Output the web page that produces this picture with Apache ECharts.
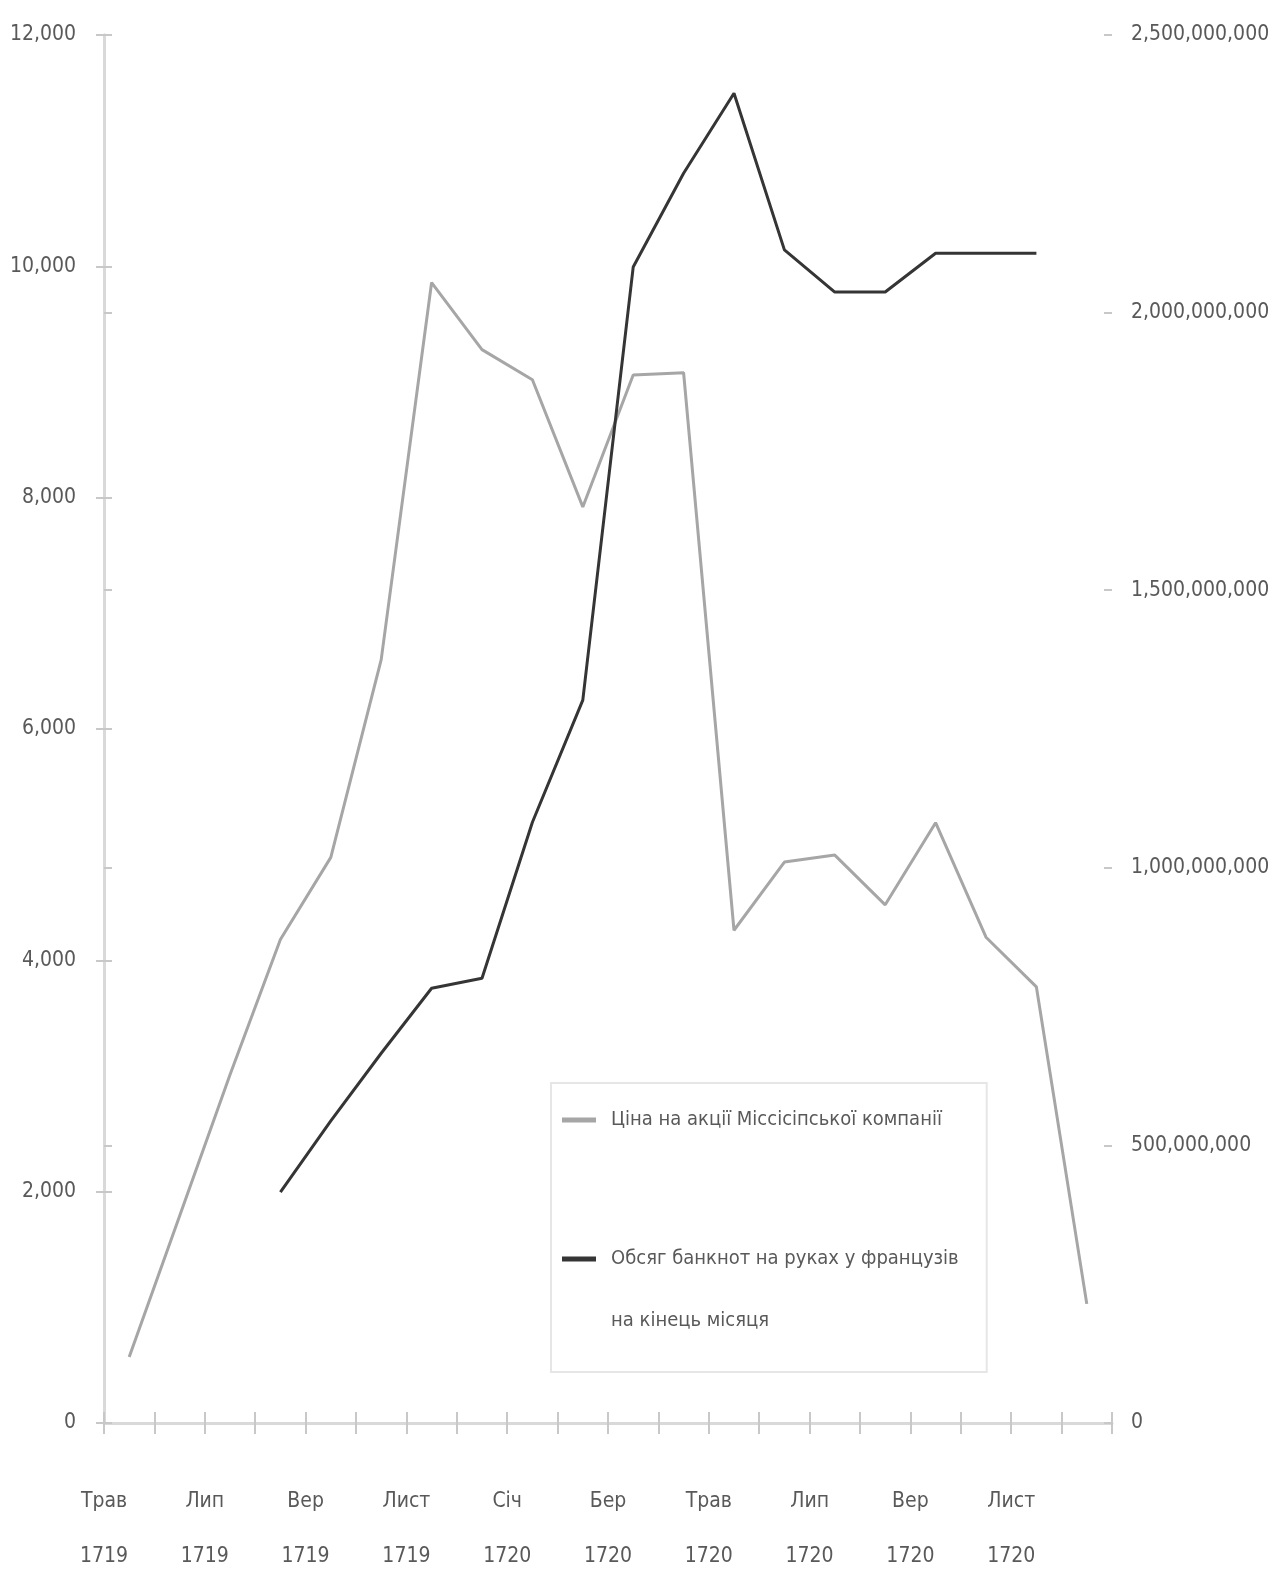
<!DOCTYPE html>
<html><head><meta charset="utf-8">
<script src="https://cdn.jsdelivr.net/npm/echarts@6/dist/echarts.min.js"></script>
<style>html,body{margin:0;padding:0;background:#fff}#c{width:1273px;height:1579px}</style>
</head><body><div id="c"></div>
<script>
const months = ['Трав 1719','Черв 1719','Лип 1719','Серп 1719','Вер 1719','Жовт 1719','Лист 1719','Груд 1719','Січ 1720','Лют 1720','Бер 1720','Квіт 1720','Трав 1720','Черв 1720','Лип 1720','Серп 1720','Вер 1720','Жовт 1720','Лист 1720','Груд 1720'];
const sharePrice = [570, 1790, 3010, 4180, 4890, 6600, 9860, 9280, 9020, 7920, 9060, 9080, 4260, 4850, 4910, 4480, 5190, 4200, 3770, 1030];
const banknotes = [null, null, null, 416e6, 544e6, 666e6, 783e6, 801e6, 1082e6, 1302e6, 2082e6, 2251e6, 2395e6, 2113e6, 2037e6, 2037e6, 2107e6, 2107e6, 2107e6, null];
const seriesNames = ['Ціна на акції Міссісіпської компанії', 'Обсяг банкнот на руках у французів на кінець місяця'];

const FONT = "'DejaVu Sans Condensed','Liberation Sans Narrow',sans-serif";
const FS = 21;
const TXT = '#595959';
const AX = '#d9d9d9';
const TICK = '#c8c8c8';
const fmt = v => String(Math.round(v)).replace(/\B(?=(\d{3})+(?!\d))/g, ',');

function pts(arr){ return arr.map((v,i)=>[i+0.5, v]); }

const chart = echarts.init(document.getElementById('c'), null, {renderer:'canvas'});
const xBase = {type:'value', min:0, max:months.length, interval:1, splitLine:{show:false}, position:'bottom'};
chart.setOption({
  animation:false,
  backgroundColor:'#fff',
  grid:{left:104, right:161, top:35, bottom:156, containLabel:false, outerBoundsMode:'none'},
  xAxis:[
    Object.assign({}, xBase, {
      axisLine:{show:true, lineStyle:{color:AX, width:3}},
      axisTick:{show:true, length:11, lineStyle:{color:TICK, width:2}},
      axisLabel:{show:true, margin:51, color:TXT, fontFamily:FONT, fontSize:FS, lineHeight:55,
        formatter:v => (v%2===0 && v<months.length) ? months[v].replace(' ','\n') : ''}
    }),
    Object.assign({}, xBase, {
      axisLine:{show:false},
      axisTick:{show:true, inside:true, length:11, lineStyle:{color:TICK, width:2}},
      axisLabel:{show:false}
    })
  ],
  yAxis:[
    {type:'value', position:'left', min:0, max:12000, interval:2000, splitLine:{show:false},
     axisLine:{show:true, lineStyle:{color:AX, width:3}},
     axisTick:{show:true, length:8, lineStyle:{color:TICK, width:2}},
     axisLabel:{margin:28, color:TXT, fontFamily:FONT, fontSize:FS, formatter:fmt}},
    {type:'value', position:'right', min:0, max:2500000000, interval:500000000, splitLine:{show:false},
     axisLine:{show:true, lineStyle:{color:AX, width:3}},
     axisTick:{show:true, length:8, lineStyle:{color:TICK, width:2}},
     axisLabel:{margin:19, color:TXT, fontFamily:FONT, fontSize:FS, formatter:fmt}},
    {type:'value', position:'left', min:0, max:12000, interval:2000, splitLine:{show:false},
     axisLine:{show:false}, axisLabel:{show:false},
     axisTick:{show:true, inside:true, length:8, lineStyle:{color:TICK, width:2}}},
    {type:'value', position:'right', min:0, max:2500000000, interval:500000000, splitLine:{show:false},
     axisLine:{show:false}, axisLabel:{show:false},
     axisTick:{show:true, inside:true, length:8, lineStyle:{color:TICK, width:2}}}
  ],
  legend:{
    orient:'vertical', left:551, top:1083,
    padding:[6, 28, 20, 11],
    itemGap:15, itemWidth:34, itemHeight:5, icon:'rect',
    borderColor:'#e6e6e6', borderWidth:2, backgroundColor:'#fff',
    textStyle:{color:TXT, fontFamily:FONT, fontSize:20, lineHeight:62, padding:[0,0,0,10]},
    data:[seriesNames[0], seriesNames[1]],
    formatter: n => n === seriesNames[1] ? '\nОбсяг банкнот на руках у французів\nна кінець місяця' : n
  },
  series:[
    {name:seriesNames[0], type:'line', xAxisIndex:0, yAxisIndex:0, data:pts(sharePrice),
     showSymbol:false, symbol:'none', lineStyle:{color:'#a6a6a6', width:3}, itemStyle:{color:'#a6a6a6'}},
    {name:seriesNames[1], type:'line', xAxisIndex:0, yAxisIndex:1, data:pts(banknotes),
     showSymbol:false, symbol:'none', connectNulls:false, lineStyle:{color:'#353535', width:3}, itemStyle:{color:'#353535'}}
  ]
});
</script></body></html>
